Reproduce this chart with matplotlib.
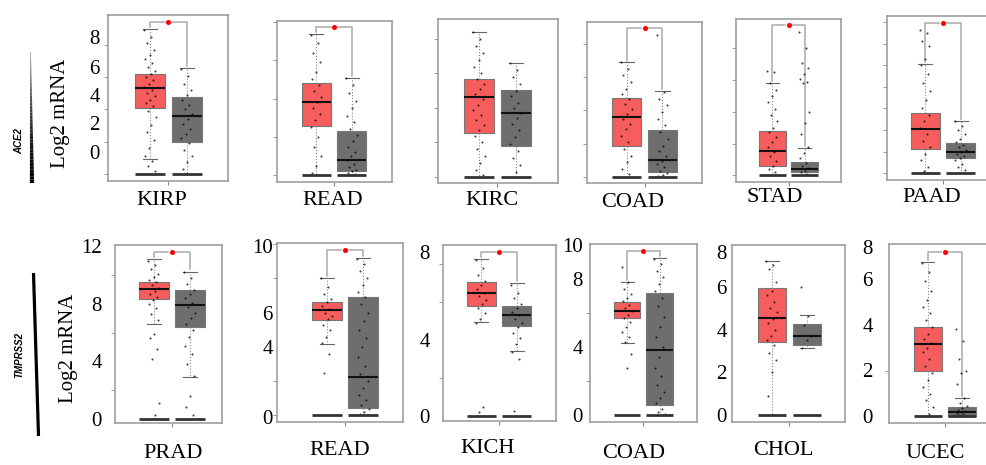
import numpy as np
import matplotlib
matplotlib.use("Agg")
import matplotlib.pyplot as plt
from matplotlib.collections import LineCollection

# ACE2 row (tumor = red, normal = grey); stats are whislo, q1, med, q3, whishi
ace2_names = ["KIRP", "READ", "KIRC", "COAD", "STAD", "PAAD"]
ace2_tumor = [(0.9, 4.06, 5.3, 6.19, 8.97), (0, 2.56, 3.83, 4.82, 7.39),
              (0, 2.55, 4.64, 5.68, 8.41), (0, 1.9, 3.63, 4.76, 6.87),
              (0, 0.59, 1.52, 2.78, 5.83), (0, 1.12, 2.03, 2.77, 5.05)]
ace2_normal = [(0, 1.99, 3.58, 4.78, 6.55), (0, 0.23, 0.78, 2.31, 5.1),
               (0, 1.82, 3.71, 5.02, 6.61), (0, 0.3, 1.05, 2.84, 5.16),
               (0, 0.21, 0.42, 0.84, 1.75), (0, 0.69, 1.0, 1.38, 2.43)]
ace2_sig = [9.4, 7.74, None, 8.93, 9.47, 6.97]
ace2_pts_tumor = [
    [8.9, 8.5, 8.1, 7.7, 7.4, 7.1, 6.9, 6.6, 6.4, 6.2, 6.0, 5.8, 5.6, 5.4, 5.2, 5.0, 4.8, 4.6, 4.4, 4.2, 3.9, 3.5, 3.0, 2.6, 2.1, 1.6, 1.1, 0.8, 0.5, 0.2],
    [7.3, 6.9, 6.4, 5.9, 5.4, 5.0, 4.7, 4.4, 4.1, 3.8, 3.5, 3.2, 2.9, 2.5, 2.0, 1.5, 1.0, 0.5, 0.1],
    [8.4, 8.0, 7.6, 7.2, 6.8, 6.4, 6.0, 5.7, 5.4, 5.1, 4.8, 4.5, 4.2, 3.9, 3.6, 3.3, 3.0, 2.7, 2.4, 2.0, 1.6, 1.2, 0.8, 0.4, 0.1],
    [6.9, 6.5, 6.1, 5.7, 5.3, 5.0, 4.7, 4.4, 4.1, 3.8, 3.5, 3.2, 2.9, 2.5, 2.1, 1.7, 1.3, 0.9, 0.5, 0.2],
    [6.6, 6.5, 5.8, 5.4, 5.0, 4.6, 4.2, 3.8, 3.4, 3.0, 2.7, 2.4, 2.1, 1.8, 1.5, 1.2, 0.9, 0.6, 0.4, 0.2, 0.05],
    [6.65, 6.5, 6.1, 5.9, 5.3, 5.0, 4.6, 4.2, 3.8, 3.4, 3.0, 2.7, 2.4, 2.1, 1.8, 1.5, 1.2, 0.9, 0.6, 0.3, 0.1],
]
ace2_pts_normal = [
    [6.5, 6.1, 5.6, 5.2, 4.9, 4.6, 4.3, 4.0, 3.7, 3.4, 3.1, 2.8, 2.5, 2.2, 1.9, 1.5, 1.1, 0.7, 0.3],
    [5.1, 4.7, 4.3, 3.9, 3.5, 3.1, 2.8, 2.4, 2.1, 1.8, 1.5, 1.2, 1.0, 0.8, 0.6, 0.45, 0.3, 0.2, 0.1, 0.05],
    [6.6, 6.2, 5.8, 5.4, 5.0, 4.7, 4.3, 4.0, 3.7, 3.4, 3.1, 2.7, 2.3, 1.9, 1.5, 1.1, 0.7, 0.3],
    [8.5, 5.1, 4.7, 4.3, 3.9, 3.5, 3.1, 2.7, 2.3, 1.9, 1.6, 1.3, 1.0, 0.8, 0.6, 0.4, 0.25, 0.15, 0.05],
    [9.0, 8.0, 7.05, 6.75, 6.4, 6.1, 5.9, 5.8, 4.0, 3.3, 2.6, 1.8, 1.4, 1.1, 0.8, 0.6, 0.45, 0.3, 0.2, 0.1],
    [2.4, 2.2, 2.0, 1.8, 1.6, 1.45, 1.3, 1.2, 1.1, 1.0, 0.9, 0.8, 0.7, 0.6, 0.45, 0.3, 0.15],
]

# TMPRSS2 row
tmp_names = ["PRAD", "READ", "KICH", "COAD", "CHOL", "UCEC"]
tmp_tumor = [(6.62, 8.36, 9.05, 9.56, 11.1), (4.19, 5.58, 6.15, 6.6, 8.02),
             (4.96, 5.79, 6.49, 7.04, 8.25), (4.25, 5.69, 6.14, 6.67, 7.84),
             (0, 3.43, 4.56, 5.92, 7.21), (0, 1.99, 3.17, 3.93, 6.74)]
tmp_normal = [(2.9, 6.39, 7.94, 8.94, 10.25), (0, 0.44, 2.25, 6.92, 9.17),
              (3.42, 4.74, 5.32, 5.79, 6.98), (0, 0.59, 3.86, 7.2, 9.22),
              (3.12, 3.27, 3.71, 4.24, 4.67), (0, 0.0, 0.17, 0.39, 0.8)]
tmp_sig = [11.6, 9.62, 8.65, 9.67, None, 7.2]
tmp_pts_tumor = [
    [11.0, 10.7, 10.4, 10.1, 9.9, 9.7, 9.5, 9.3, 9.1, 8.9, 8.7, 8.5, 8.3, 8.0, 7.7, 7.3, 6.9, 5.9, 5.6, 4.9, 4.2, 1.1, 0.3],
    [8.0, 7.5, 7.1, 6.8, 6.6, 6.4, 6.2, 6.0, 5.8, 5.6, 5.3, 5.0, 4.6, 4.2, 3.6, 2.5],
    [8.2, 7.8, 7.4, 7.1, 6.9, 6.7, 6.5, 6.3, 6.1, 5.9, 5.7, 5.4, 5.1, 4.9, 0.5, 0.2],
    [8.7, 7.8, 7.4, 7.1, 6.9, 6.7, 6.5, 6.3, 6.1, 5.9, 5.7, 5.5, 5.2, 4.9, 4.6, 4.3, 3.6, 2.8],
    [7.2, 7.0, 6.8, 6.2, 5.8, 5.6, 5.3, 5.0, 4.8, 4.5, 4.3, 4.0, 3.7, 3.5, 3.3, 2.9, 2.6, 2.0, 0.9],
    [6.7, 6.3, 5.9, 5.5, 5.1, 4.8, 4.5, 4.2, 3.9, 3.6, 3.4, 3.2, 3.0, 2.8, 2.5, 2.2, 1.9, 1.6, 1.3, 1.0, 0.7, 0.4, 0.1],
]
tmp_pts_normal = [
    [10.2, 9.8, 9.4, 9.0, 8.7, 8.4, 8.1, 7.8, 7.4, 7.0, 6.6, 6.2, 5.7, 5.1, 4.5, 3.8, 3.0, 1.6, 0.8, 0.3],
    [9.1, 8.8, 8.4, 8.0, 7.6, 7.2, 6.9, 6.5, 6.0, 5.5, 5.0, 4.5, 4.0, 3.4, 2.9, 2.4, 2.0, 1.6, 1.2, 0.9, 0.6, 0.4, 0.2, 0.1],
    [6.9, 6.5, 6.2, 5.9, 5.7, 5.5, 5.3, 5.1, 4.9, 4.7, 4.4, 4.1, 3.8, 3.4, 3.0, 0.3],
    [9.2, 8.9, 8.5, 8.1, 7.7, 7.3, 6.9, 6.4, 5.8, 5.2, 4.6, 4.0, 3.4, 2.8, 2.3, 1.8, 1.4, 1.0, 0.7, 0.4, 0.2, 0.1],
    [6.0, 4.65, 4.2, 3.7, 3.5, 3.15],
    [3.8, 3.3, 2.5, 2.0, 1.9, 1.4, 0.8, 0.6, 0.45, 0.35, 0.3, 0.25, 0.2, 0.15, 0.1, 0.05, 0.02],
]

# y axis: limits, tick step, shown labels
ace2_ylim = [(-0.45, 9.86), (-0.35, 8.05), (-0.35, 9.16), (-0.34, 9.29), (-0.42, 9.85), (-0.31, 7.28)]
ace2_step = [2, 2, 2, 2, 2, 1]
ace2_labels = [["8", "6", "4", "2", "0"], [], [], [], [], []]
tmp_ylim = [(-0.28, 12.1), (-0.38, 10.05), (-0.25, 9.0), (-0.39, 10.06), (-0.31, 7.94), (-0.29, 7.54)]
tmp_step = [2, 2, 2, 2, 2, 2]
tmp_labels = [["12", "8", "4", "0"], ["10", "6", "4", "0"], ["8", "4", "0"],
              ["10", "8", "4", "0"], ["8", "6", "4", "2", "0"], ["8", "6", "4", "2", "0"]]

# layout (pixels): frame l,t,r,b ; xlim ; where each label sits ; label pad ; name position
W, H = 987, 465
ace2_frames = [(108, 15, 228, 181), (277, 21, 392, 182), (438, 19, 558, 183),
               (587, 22, 702, 183), (736, 19, 841, 182), (887, 16, 1000, 180)]
ace2_xlim = [(-0.135, 3.11), (-0.11, 3.13), (-0.11, 3.14), (-0.10, 3.10), (-0.14, 3.14), (-0.09, 3.12)]
ace2_labpos = [[8.51, 6.65, 4.89, 3.16, 1.36], [], [], [], [], []]
ace2_pad = [8, 5, 5, 5, 5, 5]
ace2_namepos = [(162, 200), (333, 200), (492, 200), (633, 202), (775, 197), (932, 197)]
tmp_frames = [(115, 245, 222, 423), (277, 243, 403, 422), (443, 245, 556, 421),
              (590, 244, 697, 422), (732, 245, 845, 422), (889, 244, 1000, 423)]
tmp_xlim = [(-0.08, 2.89), (-0.39, 3.11), (-0.08, 3.10), (-0.14, 3.15), (-0.14, 3.09), (-0.13, 3.12)]
tmp_labpos = [[12, 8, 4, 0], [9.9, 6, 4, -0.1], [8.65, 4, 0], [10, 8, 4, 0],
              [7.6, 6, 4, 2, 0], [7.42, 6, 4, 2.02, 0]]
tmp_pad = [13, 4, 13, 7, 5, 16]
tmp_namepos = [(173, 453), (340, 450), (488, 448), (634, 453), (783, 450), (935, 453)]

RED = "#F65D5D"
GREY = "#6E6E6E"
SERIF = "Liberation Serif"

fig = plt.figure(figsize=(W / 100, H / 100), dpi=100)
fig.patch.set_facecolor("white")

# overlay in pixel coordinates for the hand-added annotations
ov = fig.add_axes([0, 0, 1, 1], zorder=-1)
ov.set_xlim(0, W)
ov.set_ylim(H, 0)
ov.axis("off")


def panel(frame, xlim, ylim, step, tumor, normal, pts_t, pts_n, sig, labels, labpos, pad):
    l, t, r, b = frame
    ax = fig.add_axes([l / W, 1 - b / H, (r - l) / W, (b - t) / H])
    stats = []
    for s in (tumor, normal):
        stats.append(dict(whislo=s[0], q1=s[1], med=s[2], q3=s[3], whishi=s[4], fliers=[]))
    bp = ax.bxp(stats, positions=[1, 2], widths=0.82, patch_artist=True, showfliers=False,
                capwidths=0.4,
                whiskerprops=dict(color="#888888", lw=0.8, ls=":"),
                capprops=dict(color="#666666", lw=0.8),
                medianprops=dict(color="#111111", lw=1.5),
                boxprops=dict(edgecolor="#777777", lw=0.8))
    bp["boxes"][0].set_facecolor(RED)
    bp["boxes"][1].set_facecolor(GREY)
    for pos, pts in ((1, pts_t), (2, pts_n)):
        n = len(pts)
        jit = ((np.arange(n) * 0.618) % 1 - 0.5) * 0.32
        ax.scatter(pos + jit, pts, s=2.2, color="black", alpha=0.75, lw=0, zorder=4)
        ax.hlines(0, pos - 0.41, pos + 0.41, color="#333333", lw=2.0, zorder=5)
    if sig is not None:
        g = 0.012 * (ylim[1] - ylim[0])
        kw = dict(color="#AAAAAA", lw=1.1, zorder=3)
        ax.plot([1, 1, 1.4], [tumor[4] + g, sig, sig], **kw)
        ax.plot([1.6, 2, 2], [sig, sig, normal[4] + g], **kw)
        ax.plot(1.5, sig, marker="o", color="red", ms=2.6, mec="red", zorder=5)
    ax.set_xlim(*xlim)
    ax.set_ylim(*ylim)
    ax.set_xticks([1.5])
    ax.set_xticklabels([])
    ax.set_yticks(np.arange(0, ylim[1] + 0.01, step), minor=True)
    ax.set_yticks(labpos)
    ax.set_yticklabels(labels, fontfamily=SERIF, fontsize=15)
    ax.tick_params(axis="y", which="major", length=0, pad=pad * 0.72)
    ax.tick_params(axis="y", which="minor", length=3, color="#888888")
    ax.tick_params(axis="x", length=3, color="#888888")
    for sp in ax.spines.values():
        sp.set_color("#A0A0A0")
        sp.set_linewidth(1.2)
    return ax


for i in range(6):
    panel(ace2_frames[i], ace2_xlim[i], ace2_ylim[i], ace2_step[i], ace2_tumor[i], ace2_normal[i],
          ace2_pts_tumor[i], ace2_pts_normal[i], ace2_sig[i], ace2_labels[i], ace2_labpos[i], ace2_pad[i])
    ov.text(*ace2_namepos[i], ace2_names[i], ha="center", va="center", fontfamily=SERIF, fontsize=16)
    panel(tmp_frames[i], tmp_xlim[i], tmp_ylim[i], tmp_step[i], tmp_tumor[i], tmp_normal[i],
          tmp_pts_tumor[i], tmp_pts_normal[i], tmp_sig[i], tmp_labels[i], tmp_labpos[i], tmp_pad[i])
    ov.text(*tmp_namepos[i], tmp_names[i], ha="center", va="center", fontfamily=SERIF, fontsize=16)

# y axis titles
ov.text(61, 113, "Log2 mRNA", rotation=90, ha="center", va="center", fontfamily=SERIF, fontsize=15)
ov.text(68, 348, "Log2 mRNA", rotation=90, ha="center", va="center", fontfamily=SERIF, fontsize=15)

# gene labels with the side bars
ov.text(19, 141, "ACE2", rotation=90, ha="center", va="center", fontsize=7,
        fontweight="bold", fontstyle="italic", fontfamily="Liberation Sans")
ov.text(19, 355, "TMPRSS2", rotation=90, ha="center", va="center", fontsize=7,
        fontweight="bold", fontstyle="italic", fontfamily="Liberation Sans")

ys = np.linspace(52, 183, 40)
xs = np.linspace(30.5, 32.0, 40)
segs = [[(xs[k], ys[k]), (xs[k + 1], ys[k + 1])] for k in range(39)]
frac = np.linspace(0, 1, 39)
shade = 0.65 * (1 - frac) ** 1.5
cols = [(v, v, v) for v in shade]
ov.add_collection(LineCollection(segs, colors=cols, linewidths=0.6 + 2.4 * frac, capstyle="butt"))
ov.plot([33.5, 38.5], [273, 436], color="black", lw=2.3, solid_capstyle="butt")

fig.savefig("out.png", dpi=100)
